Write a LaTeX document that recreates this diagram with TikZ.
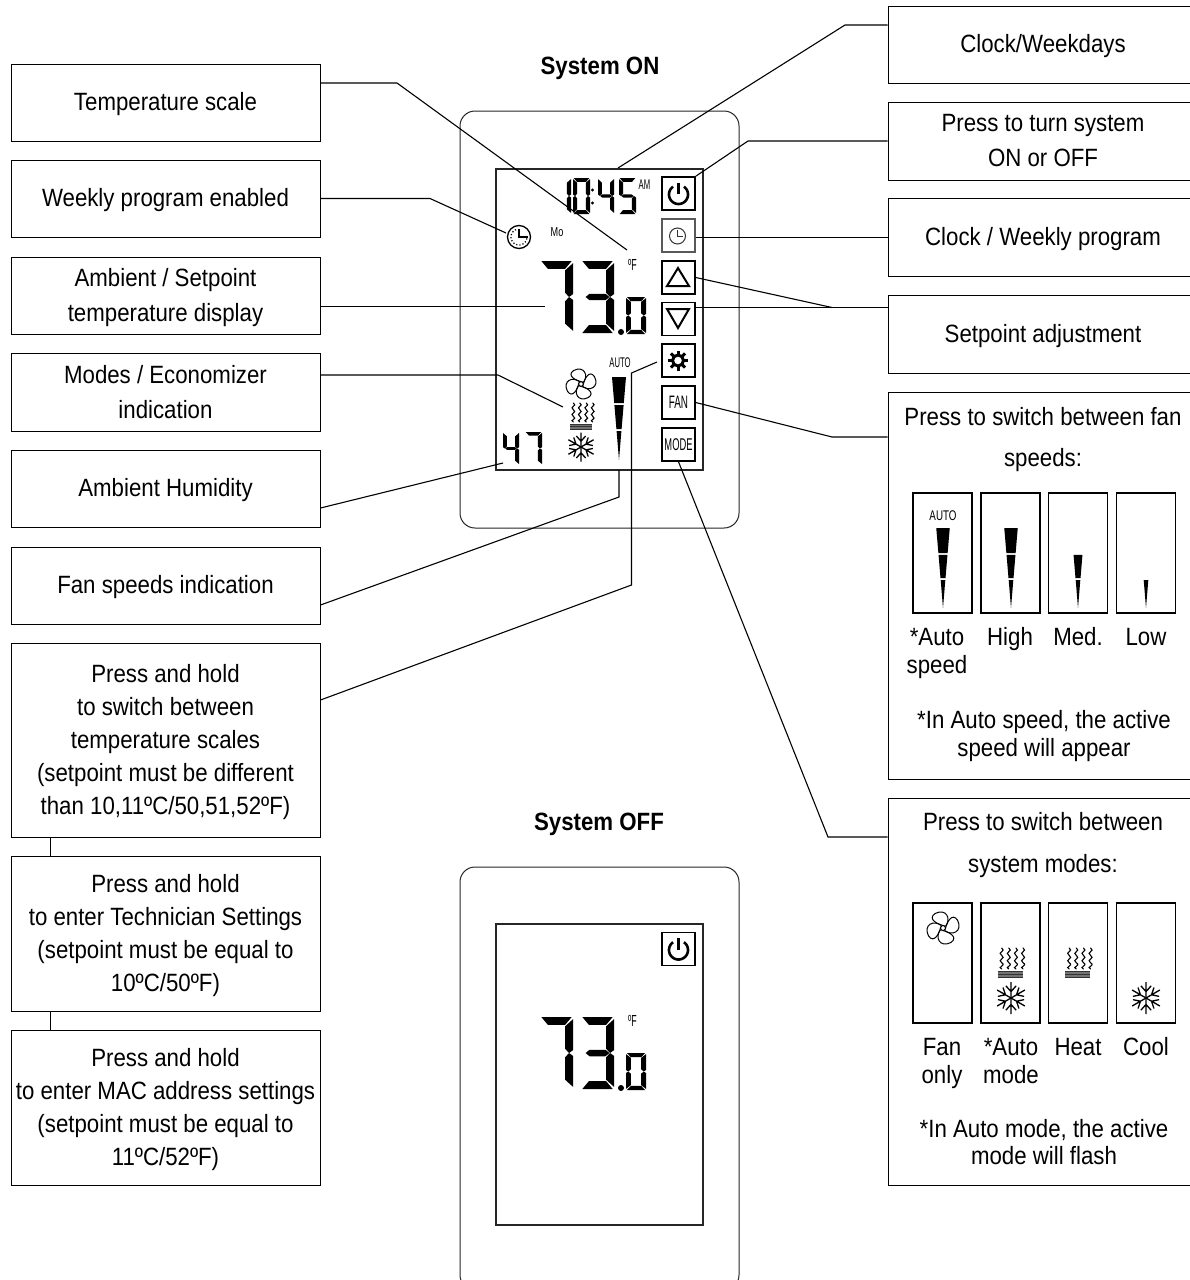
\documentclass[tikz,border=0pt]{standalone}
\usepackage{fontspec}
\setmainfont[FakeStretch=0.89]{Liberation Sans}
\newfontfamily\narrowf[FakeStretch=0.55]{Liberation Sans}
\newfontfamily\medf[FakeStretch=0.7]{Liberation Sans}
\newcommand\tp{\rule{0pt}{23pt}}
\newcommand\mysega{\fill (4,0)--(96,0)--(76,11)--(24,11)--cycle;}
\newcommand\mysegb{\fill (100,3)--(100,46)--(88,50)--(76,44)--(76,13)--cycle;}
\newcommand\mysegc{\fill (100,54)--(100,97)--(76,87)--(76,56)--(88,50)--cycle;}
\newcommand\mysegd{\fill (96,100)--(4,100)--(24,89)--(76,89)--cycle;}
\newcommand\mysege{\fill (0,97)--(0,54)--(12,50)--(24,56)--(24,87)--cycle;}
\newcommand\mysegf{\fill (0,3)--(24,13)--(24,44)--(12,50)--(0,46)--cycle;}
\newcommand\mysegg{\fill (14,50)--(26,45.5)--(74,45.5)--(86,50)--(74,54.5)--(26,54.5)--cycle;}
% x y w h segments
\newcommand\sevenseg[5]{\begin{scope}[shift={(#1,#2)},xscale=#3/100,yscale=#4/100]
\foreach \sg in {#5}{\csname myseg\sg\endcsname}\end{scope}}
% 73.0 display, dy = vertical offset
\newcommand\bigreading[1]{\begin{scope}[shift={(0,#1)}]
\sevenseg{540}{261}{33}{72}{a,b,c}
\sevenseg{581}{261}{33}{72}{a,b,c,d,g}
\fill (621,332) circle (3pt);
\sevenseg{626}{297}{20}{37}{a,b,c,d,e,f}
\end{scope}}
% wedge: cx top length list of A,B,C
\newcommand\wedA{\fill (-7,0)--(7,0)--(4.8,26)--(-4.8,26)--cycle;}
\newcommand\wedB{\fill (-4.6,28)--(4.6,28)--(2.6,52)--(-2.6,52)--cycle;}
\newcommand\wedC{\fill (-2.4,54)--(2.4,54)--(0,83)--cycle;}
\newcommand\wedgefan[4]{\begin{scope}[shift={(#1,#2)},scale=#3/83]
\foreach \sg in {#4}{\csname wed\sg\endcsname}\end{scope}}
\newcommand\fanicon[3]{\begin{scope}[shift={(#1,#2)},scale=#3,rotate=18]
\foreach \a in {0,90,180,270}{\begin{scope}[rotate=\a]
\draw[line width=1pt] (0.14,-0.12) .. controls (-0.3,-0.35) and (-0.85,-0.95) .. (-0.2,-1.12) .. controls (0.65,-1.25) and (0.75,-0.4) .. (0.2,-0.06);
\end{scope}}
\draw[line width=1pt,fill=white] (0,0) circle (0.17);
\end{scope}}
\newcommand\heaticon[3]{\begin{scope}[shift={(#1,#2)},scale=#3]
\foreach \i in {0,1,2,3}{\draw[line width=1.1pt,line cap=round] (\i*6.8+3,0)
.. controls (\i*6.8+8,3) and (\i*6.8-2,4) .. (\i*6.8+3,7)
.. controls (\i*6.8+8,10) and (\i*6.8-2,11) .. (\i*6.8+3,14)
.. controls (\i*6.8+8,17) and (\i*6.8-2,18) .. (\i*6.8+3,20);}
\fill[black!55] (-0.5,22) rectangle (23,28);
\draw[line width=0.7pt,black!80] (-0.5,22.3)--(23,22.3) (-0.5,25)--(23,25) (-0.5,27.7)--(23,27.7);
\end{scope}}
\newcommand\snowicon[3]{\begin{scope}[shift={(#1,#2)},scale=#3]
\foreach \a in {30,90,150,210,270,330}{\begin{scope}[rotate=\a]
\draw[line width=1.3pt] (0,0)--(1,0) (0.4,0)--(0.76,0.32) (0.4,0)--(0.76,-0.32);
\end{scope}}\end{scope}}
\tikzset{
 lbl/.style={font=\fontsize{25}{35}\selectfont,align=center,inner sep=0pt},
 one/.style={text height=16pt,text depth=0pt},
 tight/.style={font=\fontsize{25}{33}\selectfont},
 leftbox/.style={draw=black,line width=1pt,minimum width=309pt,inner sep=0pt,lbl},
 rightbox/.style={draw=black,line width=1pt,minimum width=310pt,inner sep=0pt,lbl},
 panel/.style={draw=black,line width=1.5pt,minimum width=59pt,minimum height=120pt,inner sep=0pt},
 conn/.style={line width=1.1pt,black},
 btn/.style={draw=black,line width=1.5pt,minimum width=33pt,minimum height=33pt,inner sep=0pt},
 frame/.style={draw=black!85,line width=1pt,rounded corners=15pt},
 screen/.style={draw=black!85,line width=1.5pt},
 tiny/.style={inner sep=0pt},
 title/.style={inner sep=0pt,text height=16pt,text depth=0pt,font=\fontsize{25}{30}\selectfont}
}
\begin{document}
\begin{tikzpicture}[x=1pt,y=-1pt]
\clip (0,0) rectangle (1190,1280);
\fill[white] (0,0) rectangle (1190,1280);
% system ON device
\draw[frame] (460,111) rectangle (739,528);
\draw[screen] (496,169) rectangle (703,470);
\node[title] (ton) at (600,66) {\textbf{System ON}};
\sevenseg{554}{178}{17}{36}{b,c}
\sevenseg{573}{178}{17}{36}{a,b,c,d,e,f}
\fill (592.5,190) circle (1.6pt) (592.5,203) circle (1.6pt);
\sevenseg{598}{178}{16}{36}{b,c,f,g}
\sevenseg{619}{178}{17}{36}{a,c,d,f,g}
\node[tiny,font=\narrowf\fontsize{14}{14}\selectfont] (am) at (644.5,185) {AM};
\node[tiny,font=\medf\fontsize{13}{13}\selectfont] (mo) at (557,232) {Mo};
\node[tiny,font=\narrowf\fontsize{16}{16}\selectfont] (degf) at (632.5,265) {ºF};
\bigreading{0}
\sevenseg{503}{432}{16}{33}{b,c,f,g}
\sevenseg{525}{432}{17}{33}{a,b,c}
\node[tiny,font=\narrowf\fontsize{14}{14}\selectfont] (auto) at (620,363) {AUTO};
\wedgefan{619}{377}{83}{A,B,C}
\fanicon{581}{384}{13.5}
\heaticon{570.5}{403}{0.95}
\snowicon{581}{447}{14.5}
% weekly clock
\draw[line width=1.3pt] (519,237) circle (11.5pt);
\draw[line width=1.2pt,dotted] plot[domain=10:260,samples=30] ({519+8*cos(\x)},{237+8*sin(\x)});
\draw[line width=1.8pt] (519,229)--(519,237)--(528,237);
% buttons
\node[btn] (bpower) at (678.5,193.5) {};
\draw[line width=2.6pt] plot[domain=-55:235,samples=40] ({678.5+9.5*cos(\x)},{194.5+9.5*sin(\x)});
\draw[line width=2.6pt] (678.5,182.5)--(678.5,194);
\node[btn,draw=black!65] (bclock) at (678.5,235.5) {};
\draw[line width=1pt,black!80] (677.5,236) circle (8pt);
\draw[line width=1pt,black!80] (677.5,230)--(677.5,236)--(683,236);
\node[btn] (bup) at (678.5,277.5) {};
\draw[line width=2pt,line join=miter] (678,268)--(689,286)--(667,286)--cycle;
\node[btn] (bdown) at (678.5,319) {};
\draw[line width=2pt,line join=miter] (678,328)--(689,309)--(667,309)--cycle;
\node[btn] (bgear) at (678.5,360.5) {};
\foreach \a in {0,45,...,315}{\draw[line width=3pt] ({678+5*cos(\a)},{360.5+5*sin(\a)})--({678+10*cos(\a)},{360.5+10*sin(\a)});}
\draw[line width=3pt] (678,360.5) circle (5.5pt);
\node[btn,font=\narrowf\fontsize{18}{18}\selectfont] (bfan) at (678.5,402.5) {FAN};
\node[btn,font=\narrowf\fontsize{17}{17}\selectfont] (bmode) at (678.5,444.5) {MODE};
% system OFF device
\node[title] (toff) at (599,822) {\textbf{System OFF}};
\draw[frame] (460,867) rectangle (739,1290);
\draw[screen] (496,924) rectangle (703,1225);
\node[btn] (bpower2) at (678.5,949) {};
\draw[line width=2.6pt] plot[domain=-55:235,samples=40] ({678.5+9.5*cos(\x)},{950+9.5*sin(\x)});
\draw[line width=2.6pt] (678.5,938)--(678.5,949.5);
\node[tiny,font=\narrowf\fontsize{16}{16}\selectfont] (degf2) at (632.5,1021) {ºF};
\bigreading{756}
% left boxes
\node[leftbox,one,minimum height=77pt] (ltemp) at (165.5,102.5) {Temperature scale};
\node[leftbox,one,minimum height=77pt] (lweek) at (165.5,198.5) {Weekly program enabled};
\node[leftbox,minimum height=77pt] (lamb) at (165.5,295.5) {\tp Ambient / Setpoint\\temperature display};
\node[leftbox,minimum height=78pt] (lmodes) at (165.5,392) {Modes / Economizer\\indication};
\node[leftbox,one,minimum height=77pt] (lhum) at (165.5,488.5) {Ambient Humidity};
\node[leftbox,one,minimum height=77pt] (lfan) at (165.5,585.5) {Fan speeds indication};
\node[leftbox,tight,minimum height=194pt] (lhold1) at (165.5,740) {\tp Press and hold\\to switch between\\temperature scales\\(setpoint must be different\\than 10,11ºC/50,51,52ºF)};
\node[leftbox,tight,minimum height=155pt] (lhold2) at (165.5,933.5) {\tp Press and hold\\to enter Technician Settings\\(setpoint must be equal to\\10ºC/50ºF)};
\node[leftbox,tight,minimum height=155pt] (lhold3) at (165.5,1107.5) {\tp Press and hold\\to enter MAC address settings\\(setpoint must be equal to\\11ºC/52ºF)};
\coordinate (l12) at (50,837);
\coordinate (l23) at (50,1011);
\draw[line width=1pt] (l12)--(lhold2.north -| l12);
\draw[line width=1pt] (l23)--(lhold3.north -| l23);
% right boxes
\node[rightbox,one,minimum height=77pt] (rclock) at (1043,44.5) {Clock/Weekdays};
\node[rightbox,minimum height=78pt] (rpower) at (1043,141) {Press to turn system\\ON or OFF};
\node[rightbox,one,minimum height=78pt] (rweek) at (1043,237) {Clock / Weekly program};
\node[rightbox,one,minimum height=78pt] (rset) at (1043,334) {Setpoint adjustment};
\node[rightbox,minimum height=387pt] (rfan) at (1043,585.5) {};
\node[rightbox,minimum height=387pt] (rmode) at (1043,991.5) {};
% fan panel
\node[lbl,one] (f1) at (1043,417) {Press to switch between fan};
\node[lbl,one] (f2) at (1043,458) {speeds:};
\node[panel] (fa) at (942.5,553) {};
\node[panel] (fb) at (1010.5,553) {};
\node[panel] (fc) at (1078,553) {};
\node[panel] (fd) at (1146,553) {};
\node[tiny,font=\medf\fontsize{14}{14}\selectfont] (fauto) at (943,516) {AUTO};
\wedgefan{943}{528}{80}{A,B,C}
\wedgefan{1011}{528}{80}{A,B,C}
\wedgefan{1078}{528}{80}{B,C}
\wedgefan{1146}{528}{80}{C}
\node[lbl,one] (f3) at (937,637) {*Auto};
\node[lbl,one] (f4) at (937,665) {speed};
\node[lbl,one] (f5) at (1010,637) {High};
\node[lbl,one] (f6) at (1078,637) {Med.};
\node[lbl,one] (f7) at (1146,637) {Low};
\node[lbl,one] (f8) at (1044,720) {*In Auto speed, the active};
\node[lbl,one] (f9) at (1044,748) {speed will appear};
% mode panel
\node[lbl,one] (m1) at (1043,822) {Press to switch between};
\node[lbl,one] (m2) at (1043,864) {system modes:};
\node[panel] (ma) at (942.5,963) {};
\node[panel] (mb) at (1010.5,963) {};
\node[panel] (mc) at (1078,963) {};
\node[panel] (md) at (1146,963) {};
\fanicon{943}{928}{14.5}
\heaticon{998.5}{948}{1.05}
\snowicon{1011}{998}{16}
\heaticon{1066}{948}{1.05}
\snowicon{1146}{998}{16}
\node[lbl,one] (m3) at (942,1047) {Fan};
\node[lbl,one] (m4) at (942,1075) {only};
\node[lbl,one] (m5) at (1011,1047) {*Auto};
\node[lbl,one] (m6) at (1011,1075) {mode};
\node[lbl,one] (m7) at (1078,1047) {Heat};
\node[lbl,one] (m8) at (1146,1047) {Cool};
\node[lbl,one] (m9) at (1044,1129) {*In Auto mode, the active};
\node[lbl,one] (m10) at (1044,1156) {mode will flash};
% connector points
\coordinate (kclockb) at (845,25);
\coordinate (kclocke) at (618,168);
\coordinate (kpowb) at (748,141);
\coordinate (kwk) at (800,237.5);
\coordinate (kset) at (832,307.5);
\coordinate (kfan) at (832,437);
\coordinate (kmode) at (828,837);
\coordinate (ktemp) at (397,83);
\coordinate (ktempe) at (627,250);
\coordinate (kweek) at (430,198.5);
\coordinate (kweeke) at (506,233);
\coordinate (kambe) at (545,306.5);
\coordinate (kmod) at (498,375);
\coordinate (kmode2) at (563,407);
\coordinate (khume) at (503,463);
\coordinate (kfanb) at (320,605);
\coordinate (kfanm) at (619,497);
\coordinate (kfane) at (619,470);
\coordinate (khold) at (320,700);
\coordinate (kholdm) at (631.5,585);
\coordinate (kholdv) at (631.5,373);
\coordinate (kholde) at (657,362);
\coordinate (khumb) at (320,508);
% connectors
\draw[conn] (rclock.west |- kclockb)--(kclockb)--(kclocke);
\draw[conn] (rpower.west)--(kpowb)--(bpower.north east);
\draw[conn] (rweek.west |- kwk)--(bclock.east |- kwk);
\draw[conn] (rset.west |- kset)--(kset)--(bdown.east |- kset);
\draw[conn] (kset)--(bup.east);
\draw[conn] (rfan.west |- kfan)--(kfan)--(bfan.east);
\draw[conn] (rmode.west |- kmode)--(kmode)--(bmode.south);
\draw[conn] (ltemp.east |- ktemp)--(ktemp)--(ktempe);
\draw[conn] (lweek.east)--(kweek)--(kweeke);
\draw[conn] (lamb.east |- kambe)--(kambe);
\draw[conn] (lmodes.east |- kmod)--(kmod)--(kmode2);
\draw[conn] (lhum.east |- khumb)--(khume);
\draw[conn] (lfan.east |- kfanb)--(kfanm)--(kfane);
\draw[conn] (lhold1.east |- khold)--(kholdm)--(kholdv)--(kholde);
\end{tikzpicture}
\end{document}
